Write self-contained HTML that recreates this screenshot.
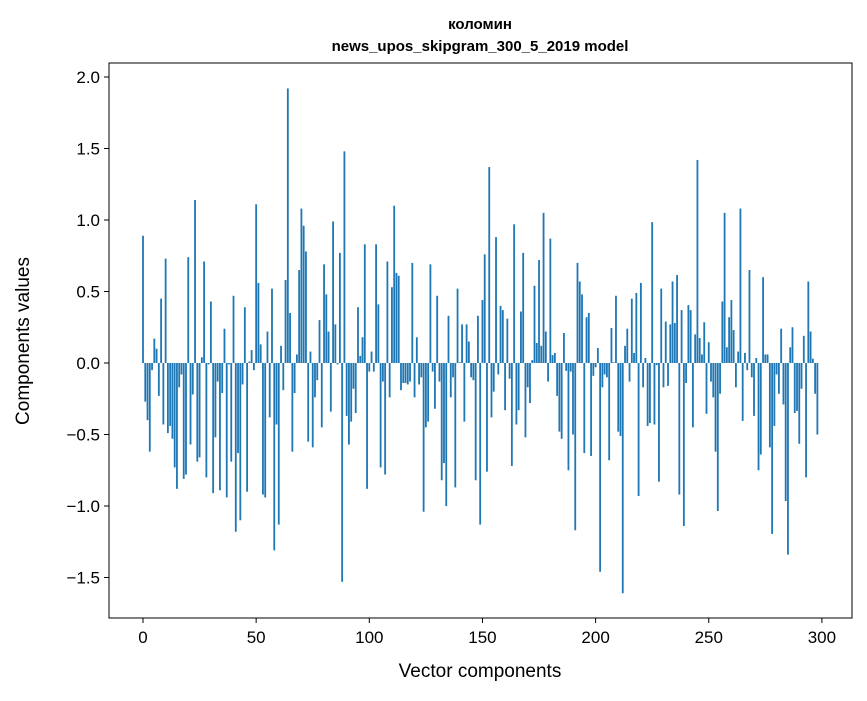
<!DOCTYPE html>
<html><head><meta charset="utf-8"><style>
body{margin:0;background:#fff;}
svg text{font-family:"Liberation Sans","DejaVu Sans",sans-serif;fill:#000;}
</style></head><body>
<svg id="chart" width="867" height="696" xmlns="http://www.w3.org/2000/svg">
<rect width="867" height="696" fill="#fff"/>
<text x="480" y="29" text-anchor="middle" font-size="15" font-weight="bold">коломин</text>
<text x="480" y="51" text-anchor="middle" font-size="15" font-weight="bold">news_upos_skipgram_300_5_2019 model</text>
<g id="bars"></g>
<g id="axes"></g>
<rect x="109" y="63" width="743" height="555" fill="none" stroke="#000" stroke-width="1"/>
<text x="480" y="677" text-anchor="middle" font-size="19">Vector components</text>
<text transform="translate(29,341) rotate(-90)" text-anchor="middle" font-size="19">Components values</text>
</svg>
<script>
const values = [0.89,-0.27,-0.40,-0.62,-0.05,0.17,0.10,-0.23,0.45,-0.43,0.73,-0.49,-0.44,-0.53,-0.73,-0.88,-0.17,-0.08,-0.81,-0.78,
0.74,-0.57,-0.22,1.14,-0.69,-0.66,0.04,0.71,-0.80,-0.01,0.43,-0.91,-0.52,-0.13,-0.89,-0.21,0.24,-0.94,-0.01,-0.69,
0.47,-1.18,-0.63,-1.10,-0.15,0.39,-0.90,0.01,0.09,-0.05,1.11,0.56,0.13,-0.92,-0.94,0.22,-0.38,0.52,-1.31,-0.43,
-1.13,0.12,-0.19,0.58,1.92,0.35,-0.62,-0.21,0.06,0.65,1.08,0.96,0.78,-0.55,0.08,-0.59,-0.24,-0.12,0.30,-0.45,
0.69,0.48,0.22,-0.34,0.99,0.27,-0.01,0.77,-1.53,1.48,-0.37,-0.57,-0.41,-0.18,-0.35,0.39,0.05,0.18,0.83,-0.88,
-0.06,0.08,-0.06,0.83,0.41,-0.73,-0.13,-0.78,0.71,-0.24,0.53,1.10,0.63,0.61,-0.19,-0.14,-0.14,-0.15,-0.13,0.70,
-0.24,0.18,-0.15,-0.10,-1.04,-0.45,-0.41,0.69,-0.06,-0.32,0.47,-0.13,-0.82,-0.70,-1.00,0.33,-0.24,-0.10,-0.87,0.52,
0.005,0.27,-0.41,0.27,0.15,-0.10,-0.12,-0.82,0.33,-1.13,0.44,0.76,-0.76,1.37,-0.38,-0.20,0.88,-0.08,0.40,0.37,
-0.33,0.31,-0.11,-0.72,0.97,-0.43,-0.33,0.36,0.77,-0.52,-0.17,-0.28,0.02,0.54,0.14,0.72,0.12,1.05,0.22,-0.13,
0.87,0.055,0.07,-0.23,-0.48,-0.53,0.21,-0.055,-0.75,-0.06,-0.50,-1.17,0.70,0.57,0.48,-0.63,0.32,0.35,-0.65,-0.09,
-0.03,0.105,-1.46,-0.17,-0.08,-0.10,-0.68,0.245,0.005,0.47,-0.48,-0.51,-1.61,0.12,0.24,-0.13,0.45,0.07,0.49,-0.93,
0.56,-0.17,0.035,-0.44,-0.42,0.985,-0.43,-0.015,-0.83,0.52,-0.17,0.29,-0.16,0.27,0.57,0.28,0.615,-0.92,0.37,-1.14,
-0.14,0.405,0.37,-0.45,0.20,1.42,0.175,0.06,0.285,-0.355,0.145,-0.13,-0.24,-0.62,-1.035,-0.215,0.43,1.05,0.11,0.32,
0.44,0.23,-0.17,0.08,1.08,-0.405,0.07,-0.05,0.65,-0.10,-0.37,0.035,-0.75,-0.64,0.60,0.06,0.06,-0.59,-1.195,-0.44,
-0.08,-0.215,0.24,-0.29,-0.965,-1.34,0.11,0.25,-0.35,-0.335,-0.565,-0.18,0.19,-0.80,0.57,0.22,0.03,-0.215,-0.50];
const yTicks = [-1.5,-1.0,-0.5,0.0,0.5,1.0,1.5,2.0];
const yTickLabels = ["\u22121.5","\u22121.0","\u22120.5","0.0","0.5","1.0","1.5","2.0"];
const xTicks = [0,50,100,150,200,250,300];

const NS="http://www.w3.org/2000/svg";
function xs(i){return 143+2.263*i;}
function ys(v){return 363-143*v;}
const bars=document.getElementById('bars');
values.forEach((v,i)=>{
  const r=document.createElementNS(NS,'rect');
  const y0=ys(0), y1=ys(v);
  r.setAttribute('x',xs(i)-0.905);
  r.setAttribute('width',1.81);
  r.setAttribute('y',Math.min(y0,y1));
  r.setAttribute('height',Math.max(Math.abs(y1-y0),0.3));
  r.setAttribute('fill','#1f77b4');
  
  
  bars.appendChild(r);
});
const axes=document.getElementById('axes');
yTicks.forEach((t,k)=>{
  const y=ys(t);
  const l=document.createElementNS(NS,'line');
  l.setAttribute('x1',104);l.setAttribute('x2',109);l.setAttribute('y1',y);l.setAttribute('y2',y);
  l.setAttribute('stroke','#000');
  
  
  axes.appendChild(l);
  const tx=document.createElementNS(NS,'text');
  tx.setAttribute('x',100);tx.setAttribute('y',y+6);tx.setAttribute('text-anchor','end');tx.setAttribute('font-size','17');
  tx.textContent=yTickLabels[k];
  
  
  axes.appendChild(tx);
});
xTicks.forEach(t=>{
  const x=xs(t);
  const l=document.createElementNS(NS,'line');
  l.setAttribute('x1',x);l.setAttribute('x2',x);l.setAttribute('y1',618);l.setAttribute('y2',623);
  l.setAttribute('stroke','#000');
  
  
  axes.appendChild(l);
  const tx=document.createElementNS(NS,'text');
  tx.setAttribute('x',x);tx.setAttribute('y',643);tx.setAttribute('text-anchor','middle');tx.setAttribute('font-size','17');
  tx.textContent=String(t);
  
  
  axes.appendChild(tx);
});
</script>
</body></html>
